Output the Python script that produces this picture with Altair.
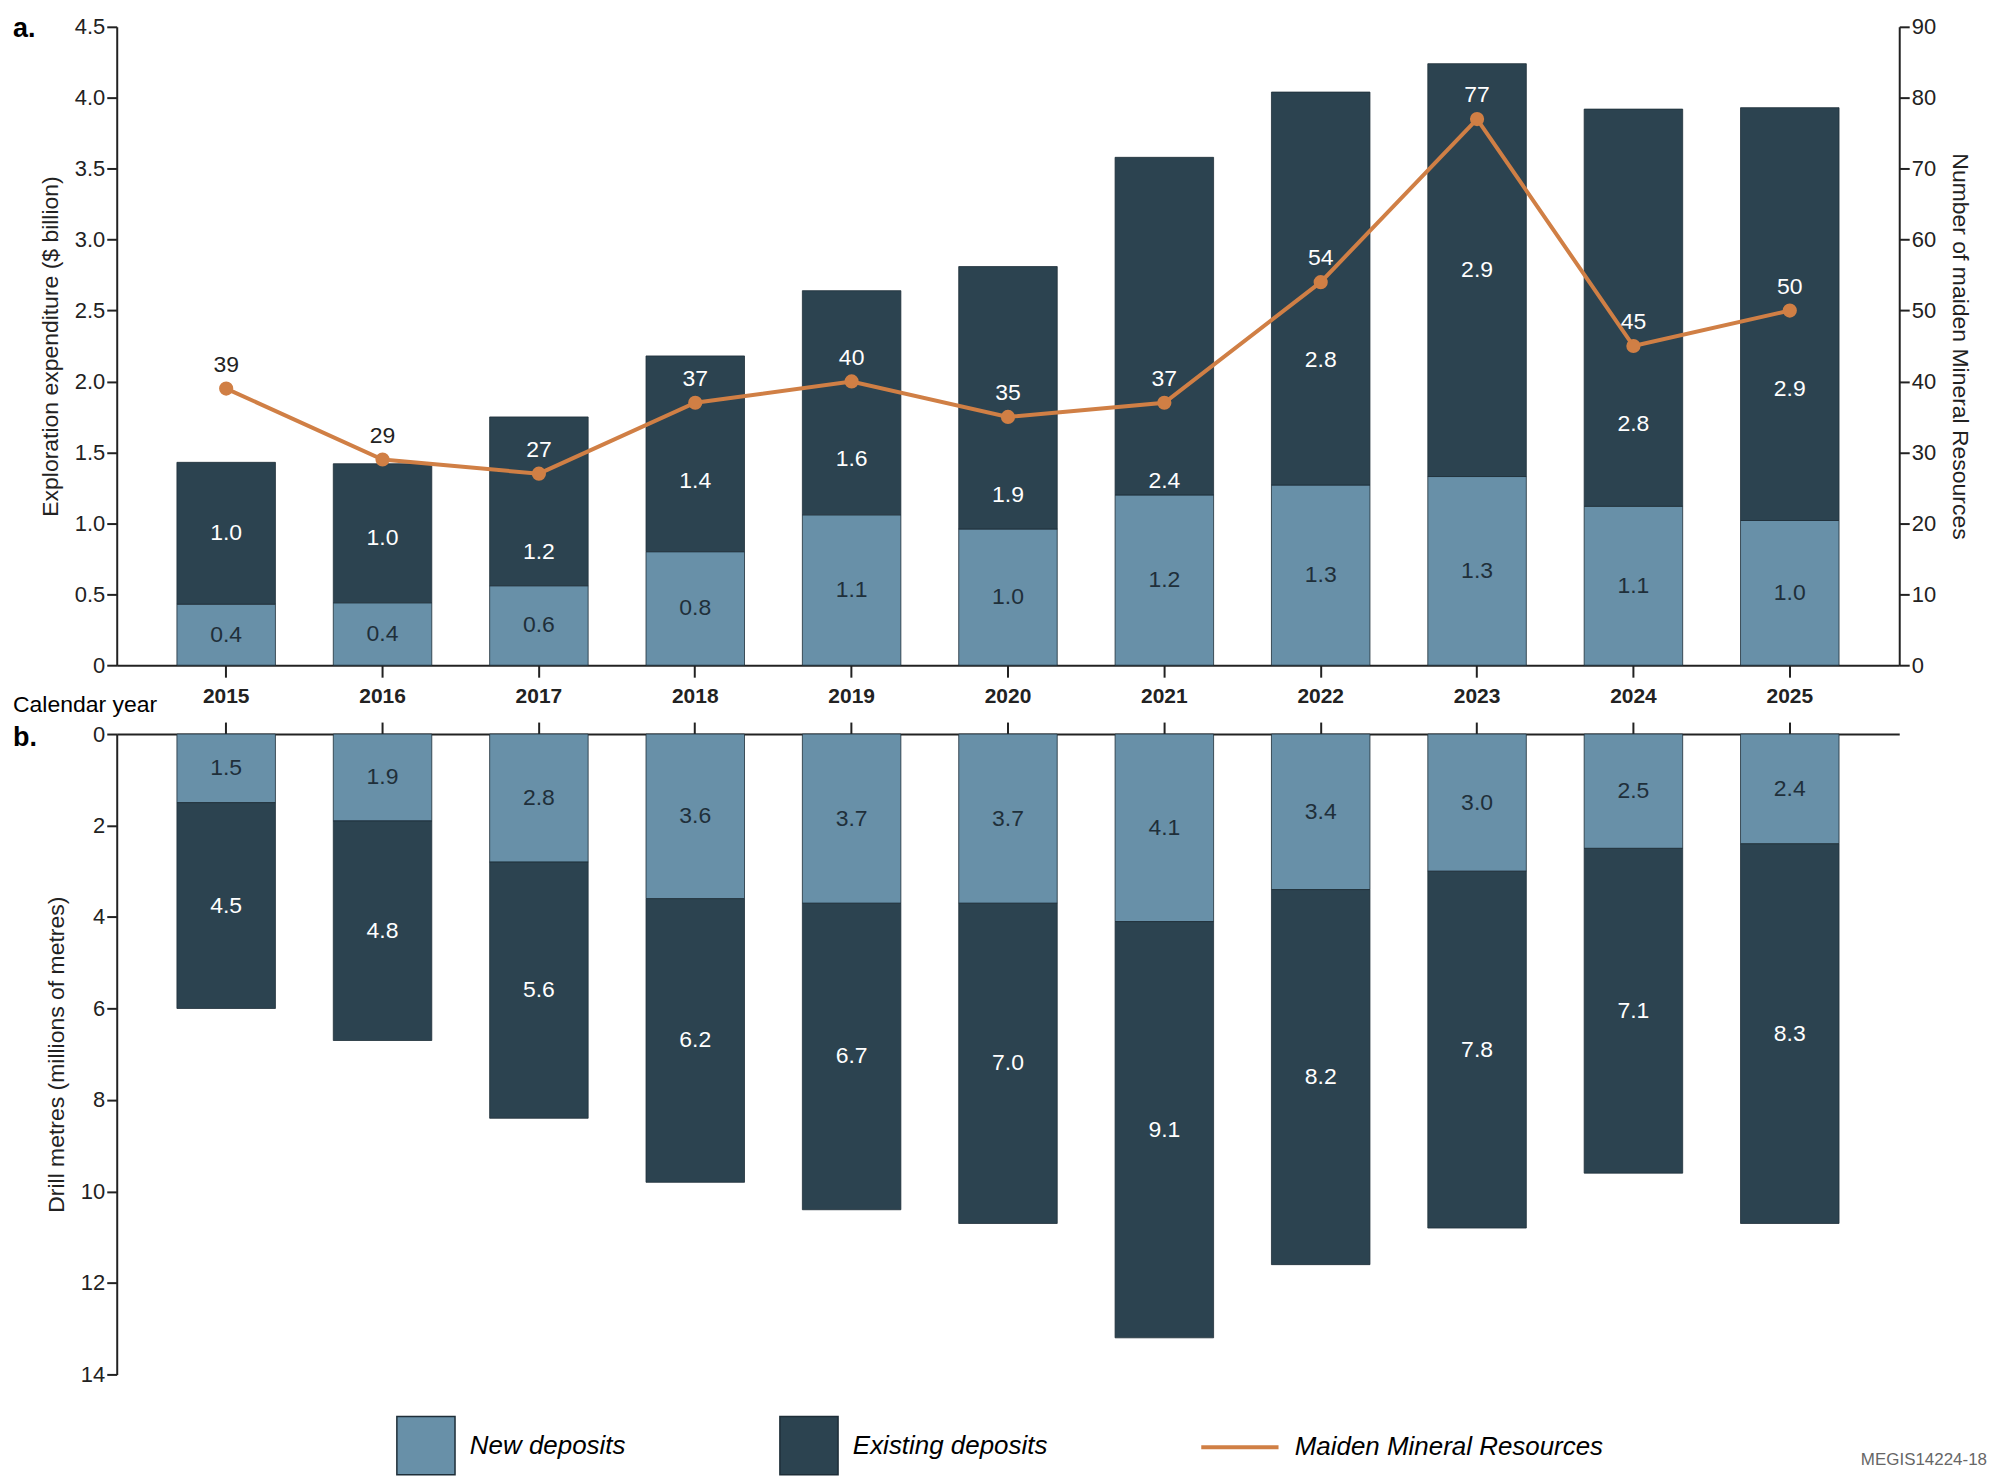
import altair as alt
import pandas as pd

years = [str(y) for y in range(2015, 2026)]
exp_new = [0.43, 0.44, 0.56, 0.8, 1.06, 0.96, 1.2, 1.27, 1.33, 1.12, 1.02]
exp_existing = [1.0, 0.98, 1.19, 1.38, 1.58, 1.85, 2.38, 2.77, 2.91, 2.8, 2.91]
maiden = [39, 29, 27, 37, 40, 35, 37, 54, 77, 45, 50]
drill_new = [1.5, 1.9, 2.8, 3.6, 3.7, 3.7, 4.1, 3.4, 3.0, 2.5, 2.4]
drill_existing = [4.5, 4.8, 5.6, 6.2, 6.7, 7.0, 9.1, 8.2, 7.8, 7.1, 8.3]

FONT = "Liberation Sans"
C_NEW = "#6890a8"
C_EX = "#2c4350"
C_LINE = "#d07f45"
W, H1, H2 = 1787, 640, 642

def seg_table(new, ex, avoid=None):
    rows = []
    for i, (y, n, e) in enumerate(zip(years, new, ex)):
        mid = n + e / 2
        if avoid is not None and abs(mid - avoid[i]) < 0.6:
            mid = avoid[i] - 0.55
        rows.append(dict(year=y, type="New deposits", lo=0, hi=n, mid=n / 2, val=n, lab_color="#1f2f3a"))
        rows.append(dict(year=y, type="Existing deposits", lo=n, hi=n + e, mid=mid, val=e, lab_color="white"))
    return pd.DataFrame(rows)

line_on_left = [m / 20 for m in maiden]
top_df = seg_table(exp_new, exp_existing, line_on_left)
bot_df = seg_table(drill_new, drill_existing)
totals = [n + e for n, e in zip(exp_new, exp_existing)]
line_df = pd.DataFrame(dict(year=years, maiden=maiden, series="Maiden Mineral Resources",
                            lab_color=["#222" if m / 20 > t - 0.1 else "white" for m, t in zip(maiden, totals)]))

xscale = alt.Scale(paddingInner=0.37, paddingOuter=0.385)
color_scale = alt.Scale(domain=["New deposits", "Existing deposits"], range=[C_NEW, C_EX])

def bars(df, yscale, axis, legend, xaxis):
    base = alt.Chart(df)
    b = base.mark_bar(stroke="#1e2e38", strokeWidth=0.8).encode(
        x=alt.X("year:N", scale=xscale, axis=xaxis),
        y=alt.Y("lo:Q", scale=yscale, axis=axis),
        y2="hi:Q",
        color=alt.Color("type:N", scale=color_scale, legend=legend),
    )
    t = base.mark_text(fontSize=23, font=FONT).encode(
        x=alt.X("year:N", scale=xscale, axis=xaxis),
        y=alt.Y("mid:Q", scale=yscale, axis=axis),
        text=alt.Text("val:Q", format=".1f"),
        color=alt.Color("lab_color:N", scale=None),
    )
    return b + t

leg_bar = alt.Legend(title=None, orient="none", legendX=280, legendY=1392, direction="horizontal",
                     symbolType="square", symbolSize=3400, symbolStrokeColor="#1e2e38", symbolStrokeWidth=1.5,
                     labelFontSize=26, labelFontStyle="italic", labelFont=FONT, columnPadding=150,
                     labelOffset=14, labelLimit=0)

top_xaxis = alt.Axis(title=None, labelFontWeight="bold", labelFontSize=21, labelAngle=0,
                     tickSize=12, labelPadding=8, domain=True)
top_axis = alt.Axis(title="Exploration expenditure ($ billion)", values=[0, 0.5, 1, 1.5, 2, 2.5, 3, 3.5, 4, 4.5],
                    labelExpr="datum.value == 0 ? '0' : format(datum.value, '.1f')", grid=False)
top_bars = bars(top_df, alt.Scale(domain=[0, 4.5], nice=False), top_axis, leg_bar, top_xaxis)

rscale = alt.Scale(domain=[0, 90], nice=False)
raxis = alt.Axis(title="Number of maiden Mineral Resources", orient="right", values=list(range(0, 91, 10)), grid=False)
line = alt.Chart(line_df).mark_line(strokeWidth=4, point=alt.OverlayMarkDef(size=150, filled=True, color=C_LINE)).encode(
    x=alt.X("year:N", scale=xscale, axis=top_xaxis),
    y=alt.Y("maiden:Q", scale=rscale, axis=raxis),
    stroke=alt.Stroke("series:N", scale=alt.Scale(range=[C_LINE]),
                      legend=alt.Legend(title=None, orient="none", legendX=1085, legendY=1383,
                                        symbolType="stroke", symbolStrokeWidth=4,
                                        symbolSize=6000, labelFontSize=26, labelFontStyle="italic",
                                        labelFont=FONT, labelOffset=14, labelLimit=0)),
)
line_txt = alt.Chart(line_df).mark_text(fontSize=23, font=FONT, dy=-24).encode(
    x=alt.X("year:N", scale=xscale, axis=top_xaxis),
    y=alt.Y("maiden:Q", scale=rscale, axis=raxis),
    text="maiden:Q",
    color=alt.Color("lab_color:N", scale=None),
)
cal = alt.Chart(pd.DataFrame(dict(t=["Calendar year"]))).mark_text(
    fontSize=23, font=FONT, align="left", baseline="middle").encode(
    text="t:N", x=alt.value(-104), y=alt.value(H1 + 40))
a_lab = alt.Chart(pd.DataFrame(dict(t=["a."]))).mark_text(
    fontSize=27, font=FONT, fontWeight="bold", align="left", baseline="middle").encode(
    text="t:N", x=alt.value(-104), y=alt.value(2))

top = alt.layer(top_bars, cal, a_lab, line + line_txt).resolve_scale(
    y="independent").properties(width=W, height=H1)

bot_xaxis = alt.Axis(title=None, orient="top", labels=False, tickSize=12)
bot_axis = alt.Axis(title="Drill metres (millions of metres)", values=list(range(0, 15, 2)), grid=False)
bot_bars = bars(bot_df, alt.Scale(domain=[0, 14], nice=False, reverse=True), bot_axis, None, bot_xaxis)
b_lab = alt.Chart(pd.DataFrame(dict(t=["b."]))).mark_text(
    fontSize=27, font=FONT, fontWeight="bold", align="left", baseline="middle").encode(
    text="t:N", x=alt.value(-104), y=alt.value(4))
code_lab = alt.Chart(pd.DataFrame(dict(t=["MEGIS14224-18"]))).mark_text(
    fontSize=17, font=FONT, color="#666", align="right", baseline="middle").encode(
    text="t:N", x=alt.value(W + 88), y=alt.value(H2 + 86))
bottom = alt.layer(bot_bars, b_lab, code_lab).properties(width=W, height=H2)

chart = alt.vconcat(top, bottom, spacing=4).configure_view(stroke=None).configure_axis(
    labelFont=FONT, titleFont=FONT, labelFontSize=22, titleFontSize=23, titleFontWeight="normal",
    domainColor="#222", tickColor="#222", labelColor="#222", titleColor="#222", domainWidth=2, tickWidth=2,
    tickSize=10, titlePadding=12,
)

chart.save("out.html", embed_options={"renderer": "svg", "actions": False})
